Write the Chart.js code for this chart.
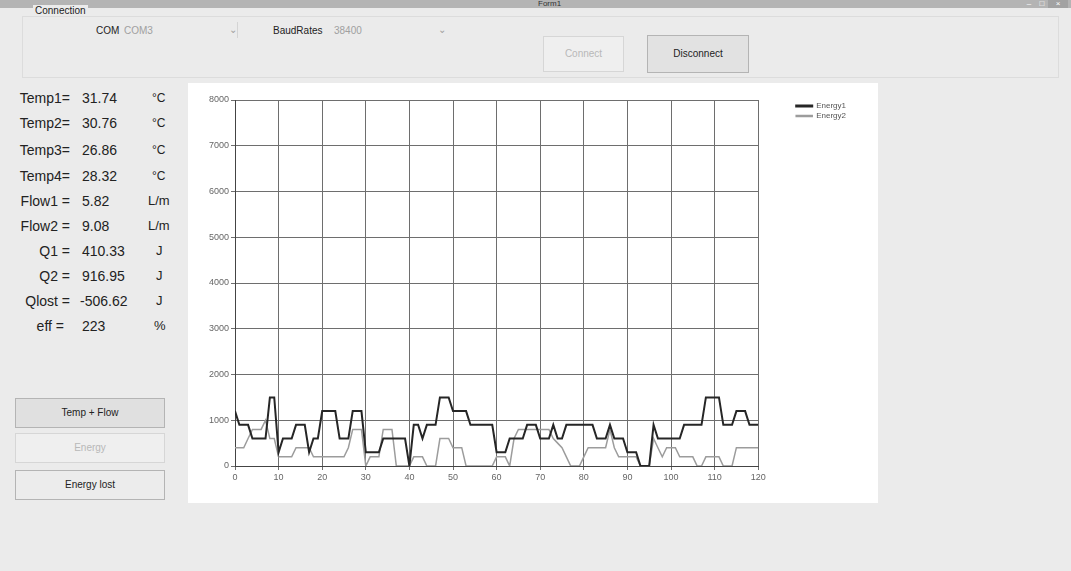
<!DOCTYPE html>
<html>
<head>
<meta charset="utf-8">
<script src="https://cdn.jsdelivr.net/npm/chart.js@4/dist/chart.umd.min.js"></script>
<style>
  html, body { margin: 0; padding: 0; }
  body { width: 1071px; height: 571px; position: relative; overflow: hidden;
         background: #ebebeb; font-family: "Liberation Sans", Arial, sans-serif; color: #222; }
  .abs { position: absolute; white-space: nowrap; }
  #titlebar { left: 0; top: 0; width: 1071px; height: 8px; background: #b4b4b4; }
  #title { left: 538px; top: -1px; font-size: 8px; color: #333; }
  .winbtn { top: 0; height: 8px; font-size: 8px; line-height: 8px; text-align: center; color: #fff; }
  #group { left: 22px; top: 16px; width: 1035px; height: 60px; border: 1px solid #dcdcdc; }
  .small { font-size: 10px; }
  .gray { color: #a0a0a0; }
  .btn { border: 1px solid #b4b4b4; background: #e6e6e6; font-size: 10px; text-align: center; box-sizing: border-box; }
  .btn.off { border-color: #d6d6d6; background: #efefef; color: #b8b8b8; }
  .lbl { font-size: 14px; line-height: 16px; }
  .lbl.name { width: 62px; left: 8px; text-align: right; }
  #panel { left: 188px; top: 83px; width: 690px; height: 420px; background: #fff; }
  #chartBox { left: 190px; top: 85px; }
</style>
</head>
<body>
<div id="titlebar" class="abs"></div>
<div id="title" class="abs">Form1</div>
<div class="abs winbtn" style="left:1022px;width:14px;background:#b4b4b4;">&#8211;</div>
<div class="abs winbtn" style="left:1036px;width:12px;background:#b4b4b4;">&#9633;</div>
<div class="abs winbtn" style="left:1048px;width:20px;background:#a2a2a2;">&#215;</div>

<div id="group" class="abs"></div>
<div class="abs small" style="left:33px;top:5px;background:#ebebeb;padding:0 2px;">Connection</div>
<div class="abs small" style="left:96px;top:25px;">COM</div>
<div class="abs small gray" style="left:124px;top:25px;">COM3</div>
<div class="abs small gray" style="left:229px;top:24px;">&#8964;</div>
<div class="abs" style="left:237px;top:22px;width:1px;height:16px;background:#d4d4d4;"></div>
<div class="abs small" style="left:273px;top:25px;">BaudRates</div>
<div class="abs small gray" style="left:334px;top:25px;">38400</div>
<div class="abs small gray" style="left:438px;top:24px;">&#8964;</div>
<div class="abs btn off" style="left:543px;top:36px;width:81px;height:36px;line-height:34px;">Connect</div>
<div class="abs btn" style="left:647px;top:35px;width:102px;height:38px;line-height:36px;background:#e2e2e2;">Disconnect</div>

<div class="abs lbl name" style="top:90px;">Temp1=</div>
<div class="abs lbl" style="left:82px;top:90px;">31.74</div>
<div class="abs lbl" style="left:152px;top:90px;font-size:12px;">&#176;C</div>
<div class="abs lbl name" style="top:115px;">Temp2=</div>
<div class="abs lbl" style="left:82px;top:115px;">30.76</div>
<div class="abs lbl" style="left:152px;top:115px;font-size:12px;">&#176;C</div>
<div class="abs lbl name" style="top:142px;">Temp3=</div>
<div class="abs lbl" style="left:82px;top:142px;">26.86</div>
<div class="abs lbl" style="left:152px;top:142px;font-size:12px;">&#176;C</div>
<div class="abs lbl name" style="top:168px;">Temp4=</div>
<div class="abs lbl" style="left:82px;top:168px;">28.32</div>
<div class="abs lbl" style="left:152px;top:168px;font-size:12px;">&#176;C</div>
<div class="abs lbl name" style="top:193px;">Flow1 =</div>
<div class="abs lbl" style="left:82px;top:193px;">5.82</div>
<div class="abs lbl" style="left:148px;top:193px;font-size:13px;">L/m</div>
<div class="abs lbl name" style="top:218px;">Flow2 =</div>
<div class="abs lbl" style="left:82px;top:218px;">9.08</div>
<div class="abs lbl" style="left:148px;top:218px;font-size:13px;">L/m</div>
<div class="abs lbl name" style="top:243px;">Q1 =</div>
<div class="abs lbl" style="left:82px;top:243px;">410.33</div>
<div class="abs lbl" style="left:156px;top:243px;font-size:13px;">J</div>
<div class="abs lbl name" style="top:268px;">Q2 =</div>
<div class="abs lbl" style="left:82px;top:268px;">916.95</div>
<div class="abs lbl" style="left:156px;top:268px;font-size:13px;">J</div>
<div class="abs lbl name" style="top:293px;">Qlost =</div>
<div class="abs lbl" style="left:80px;top:293px;">-506.62</div>
<div class="abs lbl" style="left:156px;top:293px;font-size:13px;">J</div>
<div class="abs lbl name" style="top:318px;width:56px;">eff =</div>
<div class="abs lbl" style="left:82px;top:318px;">223</div>
<div class="abs lbl" style="left:154px;top:318px;font-size:13px;">%</div>

<div class="abs btn" style="left:15px;top:398px;width:150px;height:30px;line-height:28px;background:#e0e0e0;">Temp + Flow</div>
<div class="abs btn off" style="left:15px;top:433px;width:150px;height:30px;line-height:28px;">Energy</div>
<div class="abs btn" style="left:15px;top:470px;width:150px;height:30px;line-height:28px;background:#ececec;">Energy lost</div>

<div id="panel" class="abs"></div>
<div id="chartBox" class="abs"><canvas id="energyChart" width="685" height="415"></canvas></div>

<script>
// sample index (x axis), one reading per step
const steps = Array.from({ length: 121 }, (_, i) => i);

const energy1 = [
  1200, 900, 900, 900, 600, 600, 600, 600, 1500, 1500,
  300, 600, 600, 600, 900, 900, 900, 300, 600, 600,
  1200, 1200, 1200, 1200, 600, 600, 600, 1200, 1200, 1200,
  300, 300, 300, 300, 600, 600, 600, 600, 600, 600,
  0, 900, 900, 600, 900, 900, 900, 1500, 1500, 1500,
  1200, 1200, 1200, 1200, 900, 900, 900, 900, 900, 900,
  300, 300, 300, 600, 600, 600, 600, 900, 900, 900,
  600, 600, 600, 900, 600, 600, 900, 900, 900, 900,
  900, 900, 900, 600, 600, 600, 900, 600, 600, 600,
  300, 300, 300, 0, 0, 0, 900, 600, 600, 600,
  600, 600, 600, 900, 900, 900, 900, 900, 1500, 1500,
  1500, 1500, 900, 900, 900, 1200, 1200, 1200, 900, 900,
  900
];

const energy2 = [
  400, 400, 400, 600, 800, 800, 800, 1000, 600, 600,
  200, 200, 200, 200, 400, 400, 400, 400, 200, 200,
  200, 200, 200, 200, 200, 200, 400, 800, 800, 800,
  0, 200, 200, 200, 800, 800, 800, 0, 0, 0,
  0, 200, 200, 200, 0, 0, 0, 600, 600, 600,
  400, 400, 400, 0, 0, 0, 0, 0, 0, 0,
  200, 200, 200, 0, 600, 800, 800, 800, 800, 800,
  800, 800, 800, 600, 500, 400, 200, 0, 0, 0,
  200, 400, 400, 400, 400, 400, 800, 400, 200, 200,
  200, 200, 200, 0, 0, 0, 600, 400, 200, 400,
  400, 400, 200, 200, 200, 200, 0, 0, 200, 200,
  200, 200, 0, 0, 0, 400, 400, 400, 400, 400,
  400
];

const seriesNames = ['Energy1', 'Energy2'];

const fontFamily = '"Liberation Sans", Arial, sans-serif';
const gridColor = '#6e6e6e';

const ctx = document.getElementById('energyChart').getContext('2d');

const energyChart = new Chart(ctx, {
  type: 'line',
  data: {
    datasets: [{
      label: seriesNames[0],
      data: steps.map((s, i) => ({ x: s, y: energy1[i] })),
      borderColor: '#262626',
      backgroundColor: '#262626',
      borderWidth: 2,
      pointRadius: 0,
      tension: 0
    }, {
      label: seriesNames[1],
      data: steps.map((s, i) => ({ x: s, y: energy2[i] })),
      borderColor: '#9c9c9c',
      backgroundColor: '#9c9c9c',
      borderWidth: 1.5,
      pointRadius: 0,
      tension: 0
    }]
  },
  options: {
    responsive: false,
    animation: false,
    layout: { padding: { top: 15, right: 19, bottom: 14, left: 0 } },
    plugins: {
      tooltip: { enabled: false },
      legend: {
        position: 'right',
        align: 'start',
        labels: {
          boxWidth: 16,
          boxHeight: 1,
          padding: 2,
          color: '#555',
          font: { size: 8, family: fontFamily }
        }
      }
    },
    scales: {
      x: {
        type: 'linear',
        min: 0,
        max: 120,
        ticks: { stepSize: 10, color: '#666', padding: 2, font: { size: 9, family: fontFamily } },
        grid: { color: gridColor, tickLength: 4 },
        border: { color: '#444' },
        afterFit(scale) { scale.height = 20; }
      },
      y: {
        min: 0,
        max: 8000,
        ticks: {
          stepSize: 1000,
          color: '#666',
          padding: 2,
          font: { size: 9, family: fontFamily },
          callback: (v) => String(v)
        },
        grid: { color: gridColor, tickLength: 4 },
        border: { color: '#444' },
        afterFit(scale) { scale.width = 45; }
      },
      // empty right axis, only keeps the gap between plot and legend
      gap: {
        position: 'right',
        display: true,
        grid: { display: false },
        ticks: { display: false },
        border: { display: false },
        afterFit(scale) { scale.width = 36; }
      }
    }
  }
});
</script>
</body>
</html>
